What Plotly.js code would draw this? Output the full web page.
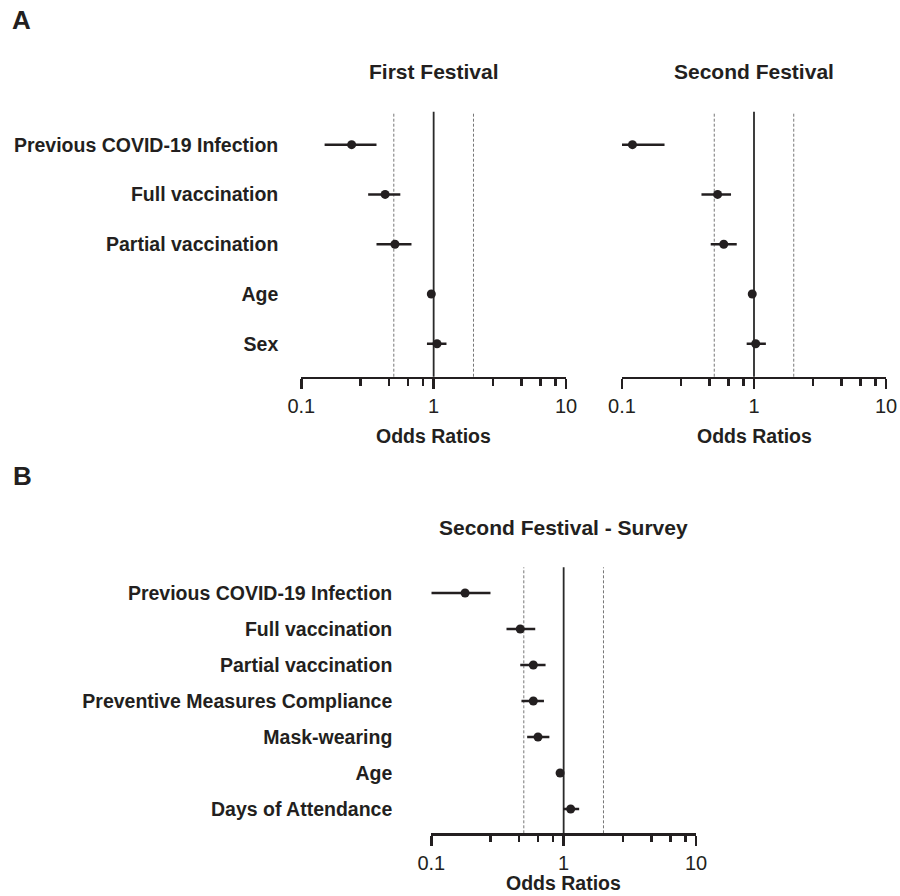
<!DOCTYPE html>
<html>
<head>
<meta charset="utf-8">
<script src="https://cdn.plot.ly/plotly-3.0.1.min.js"></script>
<style>html,body{margin:0;padding:0;background:#fff;}#chart{width:900px;height:896px;}</style>
</head>
<body>
<div id="chart"></div>
<script>
// ---- Data ----
const labelsA = ['Previous COVID-19 Infection', 'Full vaccination', 'Partial vaccination', 'Age', 'Sex'];
const firstOR   = [0.24, 0.43, 0.51, 0.96, 1.06];
const firstLow  = [0.15, 0.32, 0.37, 0.95, 0.89];
const firstHigh = [0.37, 0.56, 0.68, 0.97, 1.25];

const secondOR   = [0.12, 0.53, 0.59, 0.97, 1.03];
const secondLow  = [0.10, 0.40, 0.47, 0.96, 0.88];
const secondHigh = [0.21, 0.67, 0.74, 0.98, 1.23];

const labelsB = ['Previous COVID-19 Infection', 'Full vaccination', 'Partial vaccination',
  'Preventive Measures Compliance', 'Mask-wearing', 'Age', 'Days of Attendance'];
const surveyOR   = [0.18, 0.47, 0.59, 0.59, 0.64, 0.94, 1.13];
const surveyLow  = [0.10, 0.37, 0.47, 0.48, 0.53, 0.93, 0.99];
const surveyHigh = [0.28, 0.61, 0.73, 0.71, 0.78, 0.95, 1.31];

const majorTicks = [0.1, 1, 10];
const majorText = ['0.1', '1', '10'];
const minorTicks = [0.28, 0.46, 0.64, 0.83, 2.8, 4.6, 6.4, 8.3];
const refLines = [0.5, 2];
const titles = ['First Festival', 'Second Festival', 'Second Festival - Survey'];
const axisTitle = 'Odds Ratios';

// ---- Styling ----
const INK = '#231f20';
const FONT = 'Liberation Sans, Arial, Helvetica, sans-serif';

function trace(cats, or, lo, hi, xa, ya) {
  return {
    type: 'scatter', mode: 'markers',
    x: or, y: cats, xaxis: xa, yaxis: ya,
    marker: {color: INK, size: 9},
    error_x: {type: 'data', symmetric: false,
      array: or.map((v, i) => hi[i] - v),
      arrayminus: or.map((v, i) => v - lo[i]),
      color: INK, thickness: 2.6, width: 0},
    cliponaxis: false,
    hoverinfo: 'x+y', showlegend: false
  };
}

const data = [
  trace(labelsA, firstOR, firstLow, firstHigh, 'x', 'y'),
  trace(labelsA, secondOR, secondLow, secondHigh, 'x2', 'y2'),
  trace(labelsB, surveyOR, surveyLow, surveyHigh, 'x3', 'y3')
];

function xax(domain, anchor) {
  return {
    domain: domain, anchor: anchor, type: 'log', range: [-1, 1],
    showgrid: false, zeroline: false,
    showline: true, linecolor: INK, linewidth: 2.5,
    ticks: 'outside', ticklen: 10, tickwidth: 2.5, tickcolor: INK,
    tickmode: 'array', tickvals: majorTicks, ticktext: majorText,
    tickfont: {family: FONT, size: 20, color: INK},
    minor: {tickmode: 'array', tickvals: minorTicks, ticks: 'outside', ticklen: 6.5, tickwidth: 2.5, tickcolor: INK, showgrid: false},
    fixedrange: true
  };
}
function yax(domain, anchor, cats, range, showLabels, standoff) {
  return {
    domain: domain, anchor: anchor, type: 'category', categoryarray: cats, categoryorder: 'array',
    range: range, showgrid: false, zeroline: false, showline: false, ticks: '',
    showticklabels: showLabels, ticklabelstandoff: standoff,
    tickfont: {family: FONT, size: 19.5, color: INK, weight: 'bold'},
    fixedrange: true
  };
}

const yDomA = [1 - 376.7 / 896, 1 - 111.7 / 896];
const yDomB = [1 - 833.3 / 896, 1 - 567.3 / 896];

const shapes = [];
[['x', 'y'], ['x2', 'y2'], ['x3', 'y3']].forEach(([xa, ya]) => {
  shapes.push({type: 'line', xref: xa, yref: ya + ' domain', x0: 1, x1: 1, y0: 0, y1: 1,
    line: {color: '#2a2a2a', width: 1.8}, layer: 'below'});
  refLines.forEach(v => shapes.push({type: 'line', xref: xa, yref: ya + ' domain', x0: v, x1: v, y0: 0, y1: 1,
    line: {color: '#777', width: 1, dash: '3px,2px'}, layer: 'below'}));
});

function ann(text, x, y, size, bold, anchorX) {
  return {text: text, xref: 'paper', yref: 'paper', x: x, y: y, xanchor: anchorX || 'center', yanchor: 'middle',
    showarrow: false, font: {family: FONT, size: size, color: INK, weight: bold ? 'bold' : 'normal'}};
}
const annotations = [
  ann('A', 10 / 900, 1 - 19.5 / 896, 26, true, 'left'),
  ann('B', 11 / 900, 1 - 476 / 896, 26, true, 'left'),
  ann(titles[0], 433.7 / 900, 1 - 71.5 / 896, 21, true),
  ann(titles[1], 754 / 900, 1 - 71.5 / 896, 21, true),
  ann(titles[2], 563.5 / 900, 1 - 527 / 896, 21, true),
  ann(axisTitle, 433.7 / 900, 1 - 436 / 896, 19.5, true),
  ann(axisTitle, 754 / 900, 1 - 436 / 896, 19.5, true),
  ann(axisTitle, 563.5 / 900, 1 - 883 / 896, 19.5, true)
];

const layout = {
  width: 900, height: 896,
  margin: {l: 0, r: 0, t: 0, b: 0},
  paper_bgcolor: '#fff', plot_bgcolor: '#fff',
  font: {family: FONT, color: INK},
  showlegend: false,
  xaxis: xax([301.3 / 900, 566 / 900], 'y'),
  yaxis: yax(yDomA, 'x', labelsA, [4.663, -0.663], true, 22),
  xaxis2: xax([622 / 900, 886 / 900], 'y2'),
  yaxis2: yax(yDomA, 'x2', labelsA, [4.663, -0.663], false, 0),
  xaxis3: xax([431.3 / 900, 696 / 900], 'y3'),
  yaxis3: yax(yDomB, 'x3', labelsB, [6.675, -0.714], true, 38),
  shapes: shapes,
  annotations: annotations
};

Plotly.newPlot('chart', data, layout, {displayModeBar: false, staticPlot: true});
</script>
</body>
</html>
